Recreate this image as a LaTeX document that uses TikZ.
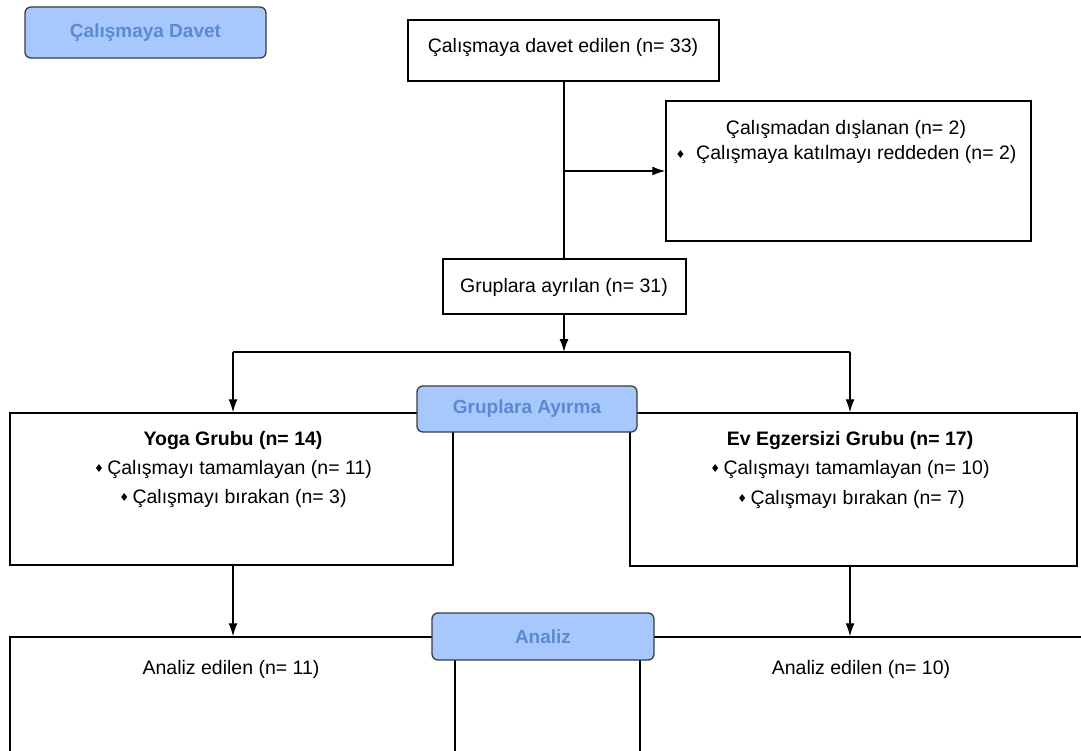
\documentclass[tikz,border=0pt]{standalone}
\usepackage{fontspec}
\setmainfont{Liberation Sans}
\newfontfamily\symf{DejaVu Sans}
\usetikzlibrary{arrows.meta}
\definecolor{lblfill}{RGB}{166,200,252}
\definecolor{lbltext}{RGB}{92,138,210}
\definecolor{lblline}{RGB}{60,60,60}
\newcommand{\dia}{\raisebox{1.2pt}{\symf\fontsize{11}{11}\selectfont ♦}}
\begin{document}
\begin{tikzpicture}[x=1pt,y=-1pt,
  box/.style={draw=black,line width=1.5pt,inner sep=0pt,rectangle},
  lbl/.style={draw=lblline,fill=lblfill,line width=1.3pt,rounded corners=6pt,inner sep=0pt,text=lbltext,font=\bfseries\fontsize{19}{22}\selectfont},
  txt/.style={inner sep=0pt,font=\fontsize{19.5}{22}\selectfont,text=black},
  btxt/.style={txt,font=\bfseries\fontsize{19.5}{22}\selectfont},
  arr/.style={line width=1.3pt,-{Latex[length=13pt,width=9pt]}},
  ln/.style={line width=1.3pt}]
\clip (0,0) rectangle (1081,751);
\fill[white] (0,0) rectangle (1081,751);

% boxes
\node[box,minimum width=311pt,minimum height=61pt] (top) at (563.5,50.5) {};
\node[box,minimum width=365pt,minimum height=140pt] (excl) at (848.5,171) {};
\node[box,minimum width=243pt,minimum height=55pt] (grup) at (564.5,286.5) {};
\node[box,minimum width=443pt,minimum height=152pt] (yoga) at (231.5,489) {};
\node[box,minimum width=447pt,minimum height=153pt] (ev) at (853.5,489.5) {};
\node[box,minimum width=445pt,minimum height=180pt] (anL) at (232.5,727) {};
\node[box,minimum width=460pt,minimum height=180pt] (anR) at (870,727) {};

% texts
\node[txt] (t1) at (563,48) {Çalışmaya davet edilen (n= 33)};
\node[txt] (e1) at (846,130) {Çalışmadan dışlanan (n= 2)};
\node[txt] (e2) at (846,155) {\dia\ \ Çalışmaya katılmayı reddeden (n= 2)};
\node[txt] (g1) at (564,287) {Gruplara ayrılan (n= 31)};
\node[btxt] (y1) at (233,440) {Yoga Grubu (n= 14)};
\node[txt] (y2) at (233,469) {\dia\,Çalışmayı tamamlayan (n= 11)};
\node[txt] (y3) at (233,498) {\dia\,Çalışmayı bırakan (n= 3)};
\node[btxt] (v1) at (850,440) {Ev Egzersizi Grubu (n= 17)};
\node[txt] (v2) at (850,469) {\dia\,Çalışmayı tamamlayan (n= 10)};
\node[txt] (v3) at (851,499) {\dia\,Çalışmayı bırakan (n= 7)};
\node[txt] (a1) at (231,669) {Analiz edilen (n= 11)};
\node[txt] (a2) at (861,669) {Analiz edilen (n= 10)};

% connectors
\coordinate (J) at (564,171);
\coordinate (S) at (564,352);
\coordinate (L) at (233,352);
\coordinate (R) at (850,352);
\draw[ln] (top.south -| J) -- (grup.north -| J);
\draw[arr] (J) -- (J -| excl.west);
\draw[arr] (grup.south -| S) -- (S);
\draw[ln] (L) -- (R);
\draw[arr] (L) -- (L |- yoga.north);
\draw[arr] (R) -- (R |- ev.north);
\draw[arr] (yoga.south -| L) -- (L |- anL.north);
\draw[arr] (ev.south -| R) -- (R |- anR.north);

% phase labels
\node[lbl,minimum width=241pt,minimum height=51pt] (davet) at (145.5,32.5) {Çalışmaya Davet};
\node[lbl,minimum width=220pt,minimum height=46pt] (ayirma) at (527,409) {Gruplara Ayırma};
\node[lbl,minimum width=222pt,minimum height=47pt] (analiz) at (543,636.5) {Analiz};
\end{tikzpicture}
\end{document}
